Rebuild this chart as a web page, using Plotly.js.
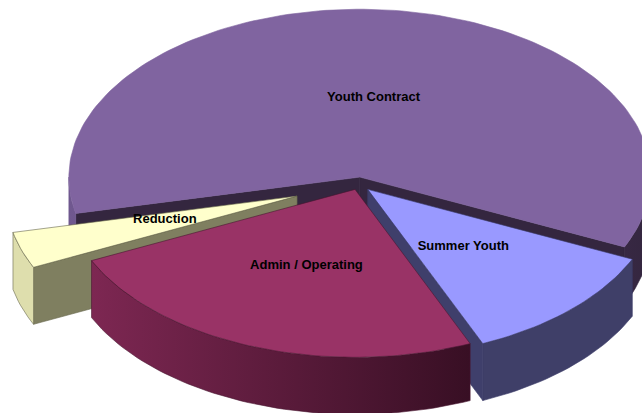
<!DOCTYPE html>
<html>
<head>
<meta charset="utf-8">
<script src="https://cdn.plot.ly/plotly-3.0.1.min.js"></script>
<style>html,body{margin:0;padding:0;background:#fff}#chart{width:642px;height:413px}</style>
</head>
<body>
<div id="chart"></div>
<script>
// Data (clockwise, starting with Youth Contract)
var categories = ["Youth Contract", "Summer Youth", "Admin / Operating", "Reduction"];
var shares = [60.3, 11.7, 24.5, 3.5];
var explodeBy = [12, 13, 10, 65];

// Styles
var topColors = ["#8064A0", "#9999FF", "#993366", "#FFFFCC"];
var faceColors = ["#34263F", "#3F3F6B", "#4A1530", "#7F7F60"];
var wallLeftColors = ["#70588F", "#3F3F68", "#7D2752", "#DEDEAD"];
var wallRightColors = ["#34263F", "#3F3F68", "#380F24", "#DEDEAD"];
var lineColors = [null, "#3A3A68", "#4A1530", "#66664C"];
var drawOrder = [0, 3, 1, 2];

// Projection of the 3-D pie
var cx = 358.6, cy = 184, R = 291, tilt = 0.577, depth = 57, startDeg = 167.5, labelAt = 0.48;
var labelNudgeX = [-1, -2, 1, 0], labelNudgeY = [1, 0, 1.5, -2];

function rad(d) { return d * Math.PI / 180; }
var total = shares.reduce(function (a, b) { return a + b; }, 0);
var slices = [], cursor = startDeg;
shares.forEach(function (v, i) {
  var sweep = v / total * 360, mid = cursor + sweep / 2;
  slices.push({
    a0: cursor, a1: cursor + sweep, mid: mid,
    ax: cx + explodeBy[i] * Math.cos(rad(mid)),
    ay: cy + explodeBy[i] * tilt * Math.sin(rad(mid))
  });
  cursor += sweep;
});
function rim(s, d) { return [s.ax + R * Math.cos(rad(d)), s.ay + R * tilt * Math.sin(rad(d))]; }
function arc(s, from, to) {
  var n = Math.max(2, Math.ceil(Math.abs(to - from) / 1.5)), pts = [];
  for (var k = 0; k <= n; k++) pts.push(rim(s, from + (to - from) * k / n));
  return pts;
}
function poly(pts, color, lineColor, grad) {
  var t = {
    type: "scatter", mode: "lines", fill: "toself", hoverinfo: "skip",
    x: pts.map(function (p) { return p[0]; }),
    y: pts.map(function (p) { return p[1]; }),
    line: { color: lineColor || color, width: 0.6 },
    fillcolor: color
  };
  if (grad) t.fillgradient = { type: "horizontal", colorscale: [[0, grad[0]], [1, grad[1]]] };
  return t;
}
function down(p) { return [p[0], p[1] + depth]; }
function hexRgb(h) { return [1, 3, 5].map(function (o) { return parseInt(h.substr(o, 2), 16); }); }
function shade(i, f) { // wall colour at fraction f of the slice-wide horizontal light ramp
  var a = hexRgb(wallLeftColors[i]), b = hexRgb(wallRightColors[i]);
  return "rgb(" + a.map(function (v, k) { return Math.round(v + (b[k] - v) * f); }).join(",") + ")";
}

var traces = [];
drawOrder.forEach(function (i) {
  var s = slices[i], apex = [s.ax, s.ay];
  // Cut faces: drawn only when they turn towards the viewer
  var edges = [];
  if (Math.cos(rad(s.a0)) < 0) edges.push(s.a0);
  if (Math.cos(rad(s.a1)) > 0) edges.push(s.a1);
  edges.forEach(function (edge) {
    var e = rim(s, edge);
    traces.push(poly([apex, e, down(e), down(apex), apex], faceColors[i], lineColors[i]));
  });
  // Outer wall: only the front half of the rim (0..180 deg, modulo 360)
  var xs = arc(s, s.a0, s.a1).map(function (p) { return p[0]; });
  var xMin = s.a1 - s.a0 > 180 ? s.ax - R : Math.min.apply(null, xs);
  var xMax = s.a1 - s.a0 > 180 ? s.ax + R : Math.max.apply(null, xs);
  [[0, 180], [360, 540]].forEach(function (band) {
    var a = Math.max(s.a0, band[0]), b = Math.min(s.a1, band[1]);
    if (b > a) {
      var top = arc(s, a, b), low = top.map(down).reverse();
      var px = top.map(function (p) { return p[0]; });
      var f0 = (Math.min.apply(null, px) - xMin) / (xMax - xMin);
      var f1 = (Math.max.apply(null, px) - xMin) / (xMax - xMin);
      traces.push(poly(top.concat(low, [top[0]]), shade(i, f1), lineColors[i], [shade(i, f0), shade(i, f1)]));
    }
  });
  traces.push(poly([apex].concat(arc(s, s.a0, s.a1), [apex]), topColors[i], lineColors[i]));
});

traces.push({
  type: "scatter", mode: "text", hoverinfo: "skip",
  x: slices.map(function (s, i) { return s.ax + labelAt * R * Math.cos(rad(s.mid)) + labelNudgeX[i]; }),
  y: slices.map(function (s, i) { return s.ay + labelAt * R * tilt * Math.sin(rad(s.mid)) + labelNudgeY[i]; }),
  text: categories, textposition: "middle center",
  textfont: { family: "Liberation Sans, Arial, sans-serif", size: 13, color: "#000", weight: 700 }
});

Plotly.newPlot("chart", traces, {
  width: 642, height: 413, showlegend: false,
  margin: { l: 0, r: 0, t: 0, b: 0, pad: 0 },
  paper_bgcolor: "#fff", plot_bgcolor: "#fff",
  xaxis: { range: [0, 642], visible: false, fixedrange: true },
  yaxis: { range: [413, 0], visible: false, fixedrange: true }
}, { displayModeBar: false, staticPlot: true });
</script>
</body>
</html>
